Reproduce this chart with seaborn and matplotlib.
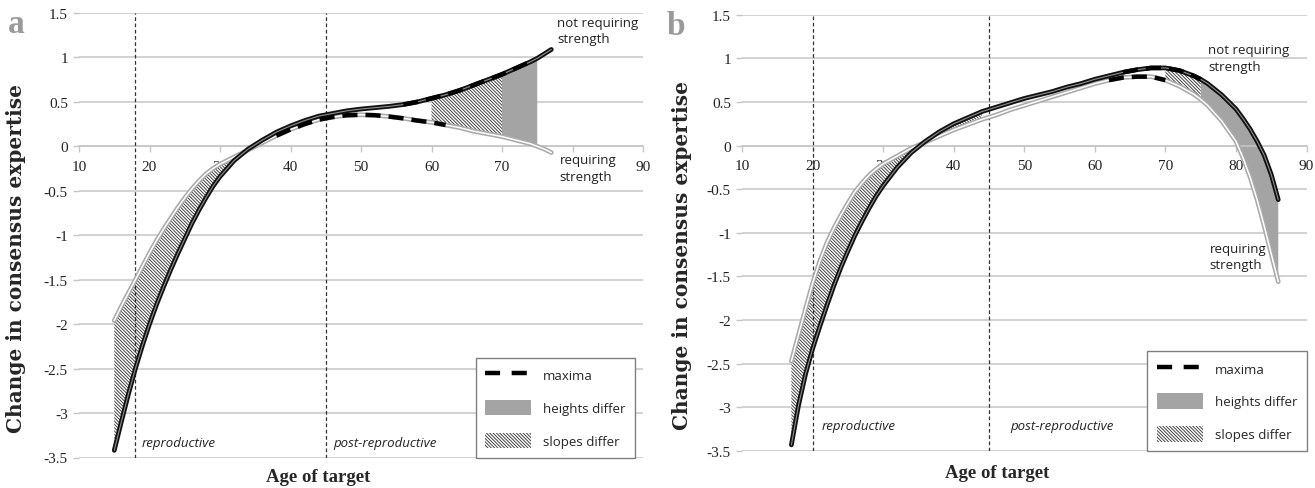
import numpy as np
import pandas as pd
import matplotlib
matplotlib.use("Agg")
import matplotlib.pyplot as plt
import matplotlib.patheffects as pe
from matplotlib.lines import Line2D
from matplotlib.patches import Patch
import seaborn as sns

# ---------------- data ----------------
a_age = [15, 16, 17, 18, 19, 20, 21, 22, 23, 24, 25, 26, 27, 28, 29, 30, 32, 34, 36, 38,
         40, 42, 44, 46, 48, 50, 52, 54, 56, 58, 60, 62, 64, 66, 68, 70, 72, 74, 75, 76, 77]
a_not_requiring = [-3.42, -3.10, -2.79, -2.50, -2.24, -2.00, -1.78, -1.58, -1.39, -1.21,
                   -1.04, -0.87, -0.72, -0.58, -0.45, -0.34, -0.16, -0.03, 0.07, 0.16,
                   0.23, 0.29, 0.34, 0.37, 0.40, 0.42, 0.435, 0.45, 0.47, 0.50,
                   0.54, 0.58, 0.63, 0.69, 0.75, 0.81, 0.88, 0.95, 0.99, 1.04, 1.09]
a_requiring = [-1.96, -1.80, -1.65, -1.50, -1.35, -1.20, -1.06, -0.93, -0.81, -0.69,
               -0.58, -0.48, -0.39, -0.31, -0.25, -0.20, -0.12, -0.04, 0.04, 0.12,
               0.19, 0.25, 0.30, 0.33, 0.35, 0.355, 0.35, 0.335, 0.315, 0.29,
               0.27, 0.24, 0.21, 0.17, 0.14, 0.11, 0.07, 0.03, 0.00, -0.03, -0.07]
a_slopes_differ = [(15, 32), (60, 70)]
a_heights_differ = [(70, 75)]
a_maxima_not_requiring = (56, 74)
a_maxima_requiring = (38, 62)
a_phase_bounds = [18, 45]

b_age = [17, 18, 19, 20, 21, 22, 23, 24, 25, 26, 27, 28, 29, 30, 32, 34, 36, 38, 40, 42,
         44, 46, 48, 50, 52, 54, 56, 58, 60, 62, 64, 66, 68, 70, 72, 74, 75, 76, 78, 80,
         81, 82, 83, 84, 85, 86]
b_not_requiring = [-3.43, -2.98, -2.62, -2.33, -2.08, -1.84, -1.61, -1.40, -1.21, -1.03,
                   -0.87, -0.72, -0.58, -0.46, -0.25, -0.08, 0.05, 0.16, 0.25, 0.32,
                   0.39, 0.44, 0.49, 0.54, 0.58, 0.62, 0.67, 0.71, 0.76, 0.80,
                   0.84, 0.87, 0.89, 0.89, 0.86, 0.80, 0.76, 0.71, 0.58, 0.42,
                   0.31, 0.19, 0.05, -0.11, -0.33, -0.62]
b_requiring = [-2.47, -2.17, -1.87, -1.58, -1.33, -1.12, -0.95, -0.80, -0.66, -0.53,
               -0.43, -0.34, -0.27, -0.21, -0.12, -0.03, 0.04, 0.11, 0.18, 0.24,
               0.30, 0.35, 0.41, 0.46, 0.51, 0.56, 0.61, 0.66, 0.71, 0.75,
               0.78, 0.79, 0.79, 0.75, 0.68, 0.59, 0.53, 0.46, 0.28, 0.05,
               -0.14, -0.36, -0.62, -0.92, -1.24, -1.56]
b_slopes_differ = [(17, 34), (38, 44), (70, 75)]
b_heights_differ = [(75, 86)]
b_maxima_not_requiring = (64, 75)
b_maxima_requiring = (62, 70)
b_phase_bounds = [20, 45]

x_ticks = [10, 20, 30, 40, 50, 60, 70, 80, 90]
# in panel a the "80" label is hidden behind the "requiring strength" note
a_x_tick_labels = ["10", "20", "30", "40", "50", "60", "70", "", "90"]
b_x_tick_labels = ["10", "20", "30", "40", "50", "60", "70", "80", "90"]
y_ticks = [1.5, 1, 0.5, 0, -0.5, -1, -1.5, -2, -2.5, -3, -3.5]
y_tick_labels = ["1.5", "1", "0.5", "0", "-0.5", "-1", "-1.5", "-2", "-2.5", "-3", "-3.5"]

legend_labels = ["maxima", "heights differ", "slopes differ"]
phase_labels = ["reproductive", "post-reproductive"]

# ---------------- style ----------------
sns.set_theme(style="white")
SERIF = ["Liberation Serif", "DejaVu Serif"]
SANS = ["Open Sans", "DejaVu Sans"]
plt.rcParams["font.family"] = SERIF
plt.rcParams["hatch.linewidth"] = 0.7

GRID = "#c6c6c6"
HEIGHT_GRAY = "#a4a4a4"
HATCH_COL = "#444444"
HATCH = "\\" * 10
MAX_DASH = (0, (3.4, 1.8))

fig = plt.figure(figsize=(13.15, 4.89), dpi=100)
ax_a = fig.add_axes([79 / 1315, 1 - 458.5 / 489, 564 / 1315, 444.5 / 489])
ax_b = fig.add_axes([742 / 1315, 1 - 452 / 489, 564.5 / 1315, 436.3 / 489])


def in_range(series, rng):
    lo, hi = rng
    return (series >= lo) & (series <= hi)


def draw_panel(ax, age, not_req, req, slopes, heights, max_nr, max_r, bounds,
               phase_xy, ann_nr, ann_r, legend_right, xlab_xy, ylab_x, xticklabels):
    df = pd.DataFrame({"age": age, "not_requiring": not_req, "requiring": req})

    for rng in heights:
        ax.fill_between(df["age"], df["requiring"], df["not_requiring"],
                        where=in_range(df["age"], rng), facecolor=HEIGHT_GRAY,
                        edgecolor="none", linewidth=0, zorder=2)
    for rng in slopes:
        ax.fill_between(df["age"], df["requiring"], df["not_requiring"],
                        where=in_range(df["age"], rng), facecolor="white",
                        edgecolor=HATCH_COL, linewidth=0, hatch=HATCH, zorder=2)

    sns.lineplot(data=df, x="age", y="requiring", ax=ax, color="white", lw=1.1,
                 path_effects=[pe.Stroke(linewidth=3.4, foreground="#aaaaaa"), pe.Normal()],
                 zorder=4, legend=False)
    sns.lineplot(data=df, x="age", y="not_requiring", ax=ax, color="#8c8c8c", lw=0.8,
                 path_effects=[pe.Stroke(linewidth=3.4, foreground="#111111"), pe.Normal()],
                 zorder=5, legend=False)

    m1 = df[in_range(df["age"], max_nr)]
    m2 = df[in_range(df["age"], max_r)]
    sns.lineplot(data=m1, x="age", y="not_requiring", ax=ax, color="black", lw=3.2,
                 linestyle=MAX_DASH, zorder=6, legend=False)
    sns.lineplot(data=m2, x="age", y="requiring", ax=ax, color="black", lw=3.2,
                 linestyle=MAX_DASH, zorder=6, legend=False)

    for b in bounds:
        ax.axvline(b, color="#333333", lw=0.9, linestyle=(0, (3, 2)), zorder=3)

    for (px, py), lab in zip(phase_xy, phase_labels):
        ax.text(px, py, lab, family=SANS, style="italic", fontsize=9.5,
                color="#222222", va="center", ha="left", zorder=7)

    ax.text(ann_nr[0], ann_nr[1], "not requiring\nstrength", family=SANS, fontsize=9.5,
            color="#222222", va="top", ha="left", linespacing=1.35, zorder=8)
    ax.text(ann_r[0], ann_r[1], "requiring\nstrength", family=SANS, fontsize=9.5,
            color="#222222", va="top", ha="left", linespacing=1.35, zorder=8)

    ax.set_xlim(10, 90)
    ax.set_ylim(-3.5, 1.5)
    ax.set_xticks(x_ticks)
    ax.set_xticklabels(xticklabels)
    ax.set_yticks(y_ticks)
    ax.set_yticklabels(y_tick_labels)
    ax.yaxis.grid(True, color=GRID, lw=1.1, zorder=0)
    ax.xaxis.grid(False)
    ax.set_axisbelow(True)
    for s in ["left", "right", "top"]:
        ax.spines[s].set_visible(False)
    ax.spines["bottom"].set_position(("data", 0))
    ax.spines["bottom"].set_color(GRID)
    ax.spines["bottom"].set_linewidth(1.1)
    ax.tick_params(axis="x", direction="out", length=4, width=1, color=GRID,
                   labelsize=11, pad=6, labelcolor="#222222", bottom=True)
    ax.tick_params(axis="y", direction="out", length=4, width=1, color=GRID,
                   labelsize=11, pad=4, labelcolor="#222222", left=True)
    for t in ax.get_xticklabels() + ax.get_yticklabels():
        t.set_family(SERIF)

    ax.set_xlabel("Age of target", fontsize=13.5, fontweight="bold", family=SERIF)
    ax.xaxis.set_label_coords(*xlab_xy)
    ax.set_ylabel("Change in consensus expertise", fontsize=14.5, fontweight="bold",
                  family=["DejaVu Serif"])
    ax.yaxis.set_label_coords(ylab_x, 0.45)

    handles = [
        Line2D([0], [0], color="black", lw=3.2, linestyle=(0, (3.4, 2.6))),
        Patch(facecolor=HEIGHT_GRAY, edgecolor="none"),
        Patch(facecolor="white", edgecolor=HATCH_COL, hatch=HATCH, linewidth=0),
    ]
    leg = ax.legend(handles, legend_labels, loc="lower right",
                    bbox_to_anchor=(legend_right, 0.0), borderaxespad=0,
                    prop={"family": SANS, "size": 9.5}, frameon=True, fancybox=False,
                    edgecolor="#808080", framealpha=1, handlelength=3.5,
                    handleheight=1.45, labelspacing=1.3, handletextpad=0.9,
                    borderpad=0.7)
    leg.get_frame().set_linewidth(1.0)
    leg.set_zorder(10)


draw_panel(ax_a, a_age, a_not_requiring, a_requiring, a_slopes_differ, a_heights_differ,
           a_maxima_not_requiring, a_maxima_requiring, a_phase_bounds,
           [(18.9, -3.33), (46.0, -3.33)], (77.8, 1.47), (78.2, -0.08), 0.986,
           (0.424, -0.024), -0.094, a_x_tick_labels)
draw_panel(ax_b, b_age, b_not_requiring, b_requiring, b_slopes_differ, b_heights_differ,
           b_maxima_not_requiring, b_maxima_requiring, b_phase_bounds,
           [(21.3, -3.21), (48.0, -3.21)], (76.1, 1.17), (76.3, -1.1), 1.0,
           (0.452, -0.03), -0.089, b_x_tick_labels)

fig.text(8 / 1315, 1 - 33 / 489, "a", fontsize=24, fontweight="bold", color="#9a9a9a",
         family=SERIF, va="baseline", ha="left")
fig.text(667 / 1315, 1 - 35 / 489, "b", fontsize=24, fontweight="bold", color="#9a9a9a",
         family=SERIF, va="baseline", ha="left")

fig.savefig("out.png", dpi=100, facecolor="white")
